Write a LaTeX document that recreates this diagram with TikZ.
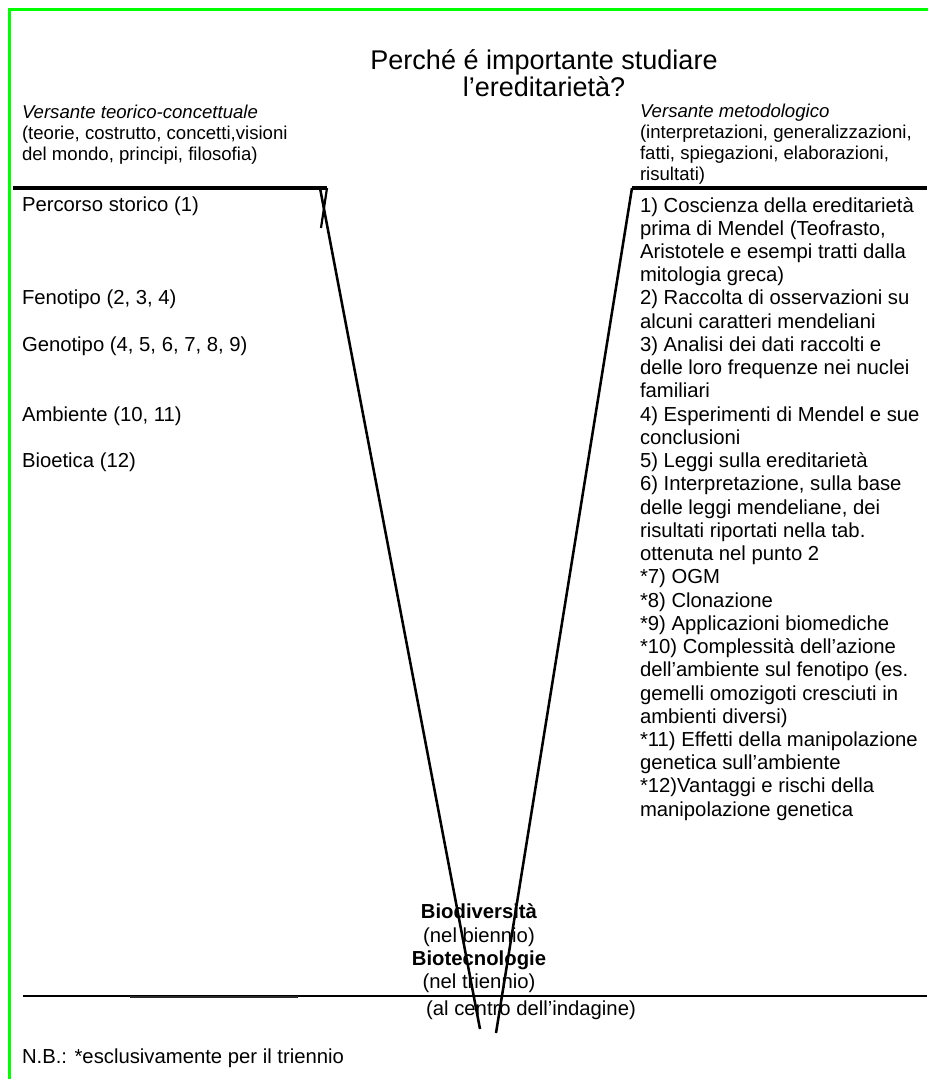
\documentclass[tikz,border=0pt]{standalone}
\usepackage{fontspec}
\setmainfont{Liberation Sans}
\definecolor{bordergreen}{RGB}{0,255,0}
\definecolor{darkseg}{RGB}{40,40,40}
\begin{document}
\begin{tikzpicture}[x=0.5917pt,y=-0.5917pt,
  body/.style={inner sep=0pt,outer sep=0pt,align=left,anchor=base west,font=\fontsize{12}{13.75}\selectfont},
  head/.style={inner sep=0pt,outer sep=0pt,align=left,anchor=base west,font=\fontsize{11}{12.5}\selectfont},
  titletext/.style={inner sep=0pt,outer sep=0pt,align=center,anchor=base,font=\fontsize{16}{14.5}\selectfont},
  centertext/.style={inner sep=0pt,outer sep=0pt,align=center,anchor=base,font=\fontsize{12}{13.75}\selectfont},
  thickbar/.style={line width=2.4pt,black},
  vline/.style={line width=1.5pt,black},
  thinline/.style={line width=0.9pt,black}]
\useasboundingbox (0,0) rectangle (927,1079);
% green frame (open to the right and bottom)
\draw[bordergreen,line width=1.6pt] (9.5,1100) -- (9.5,9.5) -- (950,9.5);

% title (base anchor = baseline of the last line)
\node[titletext] (title) at (544,96.5) {Perché é importante studiare\\l’ereditarietà?};

% headers
\node[head] (lhead) at (22,160.3) {\textit{Versante teorico-concettuale}\\(teorie, costrutto, concetti,visioni\\del mondo, principi, filosofia)};
\node[head] (rhead) at (640,180.4) {\textit{Versante metodologico}\\(interpretazioni, generalizzazioni,\\fatti, spiegazioni, elaborazioni,\\risultati)};

% coordinates of the V shape
\coordinate (lstart) at (13,188);
\coordinate (lcorner) at (327,188);
\coordinate (ltop) at (320,188);
\coordinate (ltick) at (321,228);
\coordinate (lbottom) at (480,1029);
\coordinate (rtop) at (632,188);
\coordinate (rend) at (927,188);
\coordinate (rbottom) at (496,1033);

\draw[thickbar] (lstart) -- (lcorner);
\draw[thickbar] (rtop) -- (rend);
\draw[line width=1.3pt] (lcorner) -- (ltick);
\draw[vline] (ltop) -- (lbottom);
\draw[vline] (rtop) -- (rbottom);

% left column
\node[body] (l1) at (22,212) {Percorso storico (1)};
\node[body] (l2) at (22,305) {Fenotipo (2, 3, 4)};
\node[body] (l3) at (22,351.4) {Genotipo (4, 5, 6, 7, 8, 9)};
\node[body] (l4) at (22,421.2) {Ambiente (10, 11)};
\node[body] (l5) at (22,467.6) {Bioetica (12)};

% right column (base anchor = baseline of the last line)
\node[body] (rcol) at (640,816.2) {1) Coscienza della ereditarietà\\
prima di Mendel (Teofrasto,\\
Aristotele e esempi tratti dalla\\
mitologia greca)\\
2) Raccolta di osservazioni su\\
alcuni caratteri mendeliani\\
3) Analisi dei dati raccolti e\\
delle loro frequenze nei nuclei\\
familiari\\
4) Esperimenti di Mendel e sue\\
conclusioni\\
5) Leggi sulla ereditarietà\\
6) Interpretazione, sulla base\\
delle leggi mendeliane, dei\\
risultati riportati nella tab.\\
ottenuta nel punto 2\\
*7) OGM\\
*8) Clonazione\\
*9) Applicazioni biomediche\\
*10) Complessità dell’azione\\
dell’ambiente sul fenotipo (es.\\
gemelli omozigoti cresciuti in\\
ambienti diversi)\\
*11) Effetti della manipolazione\\
genetica sull’ambiente\\
*12)Vantaggi e rischi della\\
manipolazione genetica};

% bottom centre
\node[centertext] (centre) at (479,988.7) {\textbf{Biodiversità}\\(nel biennio)\\\textbf{Biotecnologie}\\(nel triennio)};
\node[centertext] (indagine) at (531,1015) {(al centro dell’indagine)};

% bottom line
\coordinate (bl) at (23,996);
\coordinate (br) at (927,996);
\coordinate (sl) at (130,997);
\coordinate (sr) at (298,997);
\draw[thinline] (bl) -- (br);
\draw[darkseg,line width=1.5pt] (sl) -- (sr);

\node[body] (nb) at (22,1063) {N.B.: *esclusivamente per il triennio};
\end{tikzpicture}
\end{document}
